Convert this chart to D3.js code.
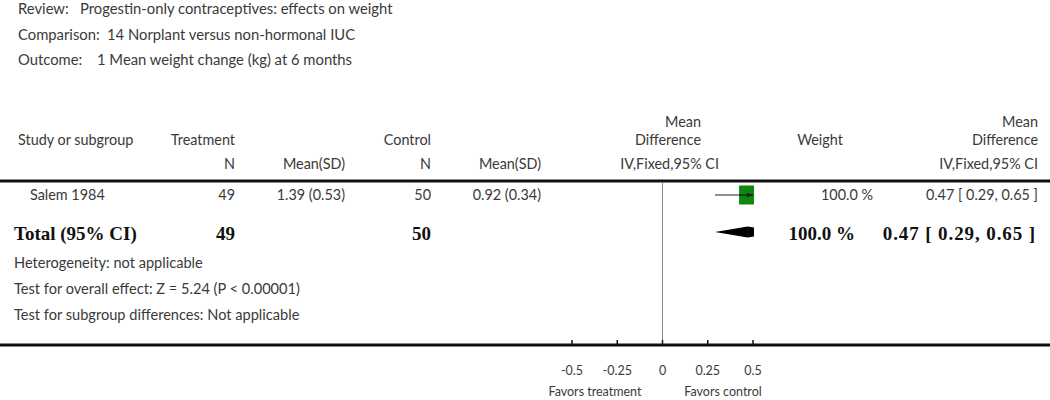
<!DOCTYPE html>
<html>
<head>
<meta charset="utf-8">
<script src="https://cdn.jsdelivr.net/npm/d3@7"></script>
<style>
  body { margin: 0; background: #fff; }
  svg text { font-family: Lato, "Open Sans", sans-serif; fill: #3a3a3a; }
  svg text.bold { font-family: "Liberation Serif", serif; font-weight: bold; fill: #111; }
</style>
</head>
<body>
<div id="chart"></div>
<script>
// header info
var reviewLabels = ["Review:", "Comparison:", "Outcome:"]
var reviewValues = ["Progestin-only contraceptives: effects on weight",
                    "14 Norplant versus non-hormonal IUC",
                    "1 Mean weight change (kg) at 6 months"]

// study rows
var studyNames = ["Salem 1984"]
var treatN = [49]
var treatMeanSD = ["1.39 (0.53)"]
var controlN = [50]
var controlMeanSD = ["0.92 (0.34)"]
var meanDiff = [0.47]
var ciLow = [0.29]
var ciHigh = [0.65]
var weights = [100.0]

// pooled total
var totalTreatN = 49
var totalControlN = 50
var totalMD = 0.47
var totalLow = 0.29
var totalHigh = 0.65
var totalWeight = 100.0

var footNotes = ["Heterogeneity: not applicable",
                 "Test for overall effect: Z = 5.24 (P < 0.00001)",
                 "Test for subgroup differences: Not applicable"]

var axisTicks = [-0.5, -0.25, 0, 0.25, 0.5]
var favorsLeft = "Favors treatment"
var favorsRight = "Favors control"

var width = 1050, height = 400
var fs = 14.4

var svg = d3.select('#chart').append('svg')
    .attr('width', width)
    .attr('height', height)

// forest scale
var scaleX = d3.scaleLinear()
    .domain([-0.5, 0.5])
    .range([572, 753])

var fmt = d3.format(".2f")

// Review / Comparison / Outcome
var headG = svg.append('g')
reviewLabels.forEach(function(lab, i) {
  headG.append('text').attr('x', 18).attr('y', 14 + i * 25.5)
    .style('font-size', '14.8px').text(lab)
})
var valueX = [80, 107, 97]
reviewValues.forEach(function(v, i) {
  headG.append('text').attr('x', valueX[i]).attr('y', 14 + i * 25.5)
    .style('font-size', '14.8px').text(v)
})

// column headers
function txt(x, y, s, anchor, cls, size) {
  return svg.append('text')
    .attr('x', x).attr('y', y)
    .attr('class', cls || null)
    .style('text-anchor', anchor || 'start')
    .style('font-size', (size || fs) + 'px')
    .text(s)
}

txt(18, 145, "Study or subgroup")
txt(235, 145, "Treatment", 'end')
txt(235, 169, "N", 'end')
txt(345, 169, "Mean(SD)", 'end')
txt(431, 145, "Control", 'end')
txt(431, 169, "N", 'end')
txt(541, 169, "Mean(SD)", 'end')
txt(701, 127, "Mean", 'end')
txt(701, 145, "Difference", 'end')
txt(719, 169, "IV,Fixed,95% CI", 'end')
txt(820, 145, "Weight", 'middle')
txt(1038, 127, "Mean", 'end')
txt(1038, 145, "Difference", 'end')
txt(1038, 169, "IV,Fixed,95% CI", 'end')

// rules
svg.append('line').attr('x1', 0).attr('x2', width).attr('y1', 181).attr('y2', 181)
  .attr('stroke', '#111').attr('stroke-width', 3)

// zero line
svg.append('line').attr('x1', scaleX(0)).attr('x2', scaleX(0)).attr('y1', 182).attr('y2', 344)
  .attr('stroke', '#888').attr('stroke-width', 1)

// clip the plot to the axis range
svg.append('defs').append('clipPath').attr('id', 'plotClip')
  .append('rect').attr('x', scaleX(-0.5)).attr('y', 180)
  .attr('width', scaleX(0.5) - scaleX(-0.5) + 1).attr('height', 170)

svg.select('defs').append('marker')
  .attr('id', 'arrow').attr('viewBox', '0 0 10 10')
  .attr('refX', 10).attr('refY', 5)
  .attr('markerWidth', 6).attr('markerHeight', 6)
  .attr('orient', 'auto')
  .append('path').attr('d', 'M0,1 L10,5 L0,9 Z').attr('fill', '#222')

var plotG = svg.append('g').attr('clip-path', 'url(#plotClip)')

// study rows
var rowY = [195]
studyNames.forEach(function(name, i) {
  var y = rowY[i]
  txt(30, y + 5, name)
  txt(235, y + 5, treatN[i], 'end')
  txt(345, y + 5, treatMeanSD[i], 'end')
  txt(431, y + 5, controlN[i], 'end')
  txt(541, y + 5, controlMeanSD[i], 'end')
  txt(873, y + 5, weights[i].toFixed(1) + " %", 'end')
  txt(1038, y + 5, fmt(meanDiff[i]) + " [ " + fmt(ciLow[i]) + ", " + fmt(ciHigh[i]) + " ]", 'end')

  var hiClip = Math.min(ciHigh[i], 0.5)
  svg.append('line')
    .attr('x1', scaleX(ciLow[i])).attr('x2', scaleX(hiClip))
    .attr('y1', y).attr('y2', y)
    .attr('stroke', '#222').attr('stroke-width', 1)
    .attr('marker-end', ciHigh[i] > 0.5 ? 'url(#arrow)' : null)

  var box = 17
  plotG.append('rect')
    .attr('x', scaleX(meanDiff[i]) - box / 2).attr('y', y - 9.5)
    .attr('width', box).attr('height', 19)
    .attr('fill', '#0a8a0a')
  plotG.append('line')
    .attr('x1', scaleX(meanDiff[i]) - box / 2).attr('x2', scaleX(hiClip))
    .attr('y1', y).attr('y2', y)
    .attr('stroke', '#222').attr('stroke-width', 1)
})

// total row
var totY = 232
txt(14, totY + 8, "Total (95% CI)", 'start', 'bold', 19)
txt(235, totY + 8, totalTreatN, 'end', 'bold', 19)
txt(431, totY + 8, totalControlN, 'end', 'bold', 19)
txt(855, totY + 8, totalWeight.toFixed(1) + " %", 'end', 'bold', 19)
txt(1036, totY + 8, fmt(totalMD) + " [ " + fmt(totalLow) + ", " + fmt(totalHigh) + " ]", 'end', 'bold', 19)
  .style('letter-spacing', '0.9px')

plotG.append('path')
  .attr('d', d3.line()([
    [scaleX(totalLow), totY],
    [scaleX(totalMD), totY - 5.5],
    [scaleX(totalHigh), totY],
    [scaleX(totalMD), totY + 5.5]
  ]) + 'Z')
  .attr('fill', '#000')

// footnotes
footNotes.forEach(function(f, i) {
  txt(14, 268 + i * 26, f, 'start', null, 14.6)
})

// axis
svg.append('line').attr('x1', 0).attr('x2', width).attr('y1', 345).attr('y2', 345)
  .attr('stroke', '#111').attr('stroke-width', 3)

var axisG = svg.append('g').attr('transform', 'translate(0,345)')
axisG.selectAll('.tick').data(axisTicks).enter().append('line')
  .attr('x1', d => scaleX(d)).attr('x2', d => scaleX(d))
  .attr('y1', -5).attr('y2', 0)
  .attr('stroke', '#111').attr('stroke-width', 1.5)
axisG.selectAll('.tlab').data(axisTicks).enter().append('text')
  .attr('x', d => scaleX(d)).attr('y', 30)
  .style('text-anchor', 'middle').style('font-size', '12.5px')
  .text(d => String(d))

txt(595, 396, favorsLeft, 'middle', null, 12.5)
txt(723, 396, favorsRight, 'middle', null, 12.5)
</script>
</body>
</html>
